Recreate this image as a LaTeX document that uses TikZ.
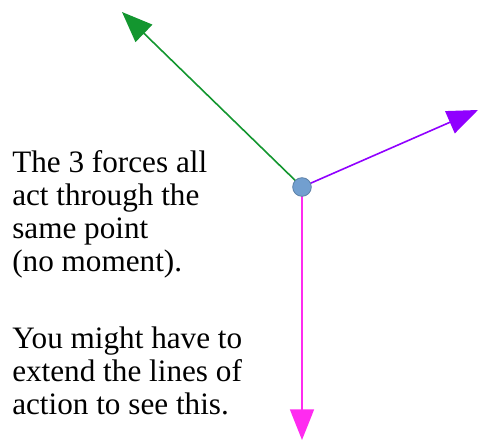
\documentclass[tikz,border=0pt]{standalone}
\usepackage{fontspec}
\setmainfont{Liberation Serif}
\usetikzlibrary{arrows.meta}
\definecolor{forcegreen}{HTML}{13962F}
\definecolor{forcepurple}{HTML}{9000FF}
\definecolor{forcemagenta}{HTML}{FF2BF0}
\definecolor{pointblue}{HTML}{729FCF}
\tikzset{
  force/.style={line width=1.2pt, -{Triangle[length=23pt, width=18pt]}},
  note/.style={anchor=north west, align=left, inner sep=0pt, font=\fontsize{23.4pt}{24.75pt}\selectfont}
}

\begin{document}
\begin{tikzpicture}[x=0.75pt, y=-0.75pt]
\useasboundingbox (0,0) rectangle (480,442);

\coordinate (p) at (302,187);
\coordinate (g) at (122,12);
\coordinate (v) at (478,110);
\coordinate (m) at (302,440);

\draw[force, forcegreen] (p) -- (g);
\draw[force, forcepurple] (p) -- (v);
\draw[force, forcemagenta] (p) -- (m);

\node[circle, fill=pointblue, draw=pointblue!80!black, line width=0.6pt, minimum size=14pt, inner sep=0pt] (pt) at (p) {};

\node[note] (txt1) at (12,150) {The 3 forces all\\act through the\\same point\\(no moment).};
\node[note] (txt2) at (12,327) {You might have to\\extend the lines of\\action to see this.};

\end{tikzpicture}
\end{document}
